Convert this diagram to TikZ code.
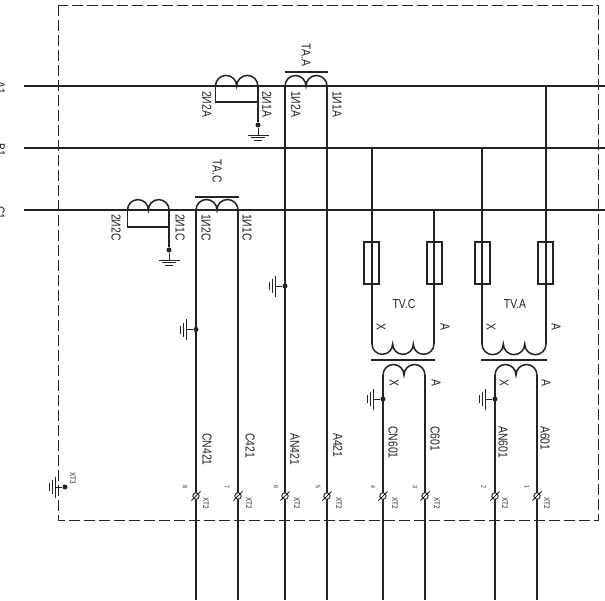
\documentclass[tikz,border=0pt]{standalone}
\usepackage{fontspec}
\setmainfont[FakeStretch=0.8]{Liberation Sans}
\definecolor{ink}{HTML}{232323}
\tikzset{
  bus/.style={draw=ink,line width=1.8pt},
  wire/.style={draw=ink,line width=1.5pt},
  thinw/.style={draw=ink,line width=0.9pt},
  frame/.style={draw=ink,line width=0.9pt,dash pattern=on 11pt off 4pt},
  dotn/.style={circle,fill=ink,inner sep=0pt,minimum size=5pt},
  fuse/.style={draw=ink,line width=1.5pt,fill=none,inner sep=0pt,minimum width=15pt,minimum height=42pt},
  term/.style={circle,draw=ink,line width=0.9pt,fill=white,inner sep=0pt,minimum size=6.5pt},
  lab/.style={rotate=-90,anchor=west,inner sep=0pt,text=ink,font=\fontsize{13}{13}\selectfont},
  tiny/.style={rotate=-90,inner sep=0pt,text=ink,font=\fontsize{8}{8}\selectfont},
  num/.style={rotate=-90,inner sep=0pt,text=ink,font=\fontsize{6.5}{6.5}\selectfont},
  upr/.style={inner sep=0pt,text=ink,font=\fontsize{13}{13}\selectfont},
}
% two bumps upward, starting at a named coordinate
\newcommand{\coilup}[2]{\draw[wire] (#1) arc[start angle=180,end angle=0,radius=#2pt] arc[start angle=180,end angle=0,radius=#2pt];}
\newcommand{\coildown}[2]{\draw[wire] (#1) arc[start angle=180,end angle=360,radius=#2pt] arc[start angle=180,end angle=360,radius=#2pt] arc[start angle=180,end angle=360,radius=#2pt];}
\newcommand{\gndbelow}[1]{\draw[thinw] (#1) -- ++(0,10) ++(-10.5,0) -- ++(21,0) ++(-17.5,2.7) -- ++(14,0) ++(-11,2.7) -- ++(8,0);}
\newcommand{\gndleft}[1]{\draw[thinw] (#1) -- ++(-10,0) ++(0,-10.5) -- ++(0,21) ++(-2.7,-17.5) -- ++(0,14) ++(-2.7,-11) -- ++(0,8);}
\newcommand{\slashterm}[1]{\draw[thinw] ([shift={(-4.6,4.6)}]#1.center) -- ([shift={(4.6,-4.6)}]#1.center);}
\begin{document}
\begin{tikzpicture}[x=1pt,y=-1pt]
\useasboundingbox (0,0) rectangle (605,600);
\fill[white] (0,0) rectangle (605,600);
% bus bars
\coordinate (a0) at (24,86); \coordinate (a1) at (605,86);
\coordinate (b0) at (24,148); \coordinate (b1) at (605,148);
\coordinate (c0) at (24,210); \coordinate (c1) at (605,210);
\draw[bus,line width=2pt] (a0) -- (a1);
\draw[bus] (b0) -- (b1);
\draw[bus] (c0) -- (c1);
% coil end points
\coordinate (taaL) at (285,86); \coordinate (taaR) at (327,86);
\coordinate (tacL) at (196,210); \coordinate (tacR) at (238,210);
\coordinate (saL) at (215.5,86); \coordinate (saR) at (258,86);
\coordinate (scL) at (127.5,210); \coordinate (scR) at (169,210);
% bottom ends
\foreach \n/\x in {w1/196,w2/238,w3/285,w4/327,w5/383,w6/425,w7/495,w8/537}{\coordinate (\n) at (\x,600);}
% terminals
\foreach \n/\x in {t8/196,t7/238,t6/285,t5/327,t4/383,t3/425,t2/495,t1/537}{\coordinate (\n p) at (\x,496);}
% current transformers
\coilup{taaL}{10.5}
\coilup{tacL}{10.5}
\coilup{saL}{10.6}
\coilup{scL}{10.4}
\coordinate (barAa) at (285,72); \coordinate (barAb) at (328,72);
\coordinate (barCa) at (195,197); \coordinate (barCb) at (239,197);
\draw[wire] (barAa) -- (barAb);
\draw[wire] (barCa) -- (barCb);
\draw[wire] (taaL) -- (w3);
\draw[wire] (taaR) -- (w4);
\draw[wire] (tacL) -- (w1);
\draw[wire] (tacR) -- (w2);
% secondary loops
\node[dotn] (da) at (258,125) {};
\node[dotn] (dc) at (169,250) {};
\draw[wire] (saL) |- (258,102);
\draw[wire] (saR) -- (da);
\draw[wire] (scL) |- (169,227);
\draw[wire] (scR) -- (dc);
\gndbelow{da}
\gndbelow{dc}
% ground points on wires
\node[dotn] (g1) at (196,329.5) {};
\node[dotn] (g2) at (285,286) {};
\node[dotn] (g3) at (383,399) {};
\node[dotn] (g4) at (495,399) {};
\node[dotn] (g5) at (65,487) {};
\gndleft{g1}
\gndleft{g2}
\gndleft{g3}
\gndleft{g4}
\gndleft{g5}
% voltage transformers
\foreach \n/\x in {fa/371.5,fb/434.5,fc/482.5,fd/545.5}{\node[fuse] (\n) at (\x,263) {};}
\coordinate (vcL) at (372,344); \coordinate (vcR) at (434,344);
\coordinate (vaL) at (482,344); \coordinate (vaR) at (546,344);
\coordinate (tpa) at (372,148); \coordinate (tpb) at (434,210);
\coordinate (tpc) at (482,148); \coordinate (tpd) at (546,86);
\draw[wire] (tpa) -- (vcL);
\draw[wire] (tpb) -- (vcR);
\draw[wire] (tpc) -- (vaL);
\draw[wire] (tpd) -- (vaR);
\coildown{vcL}{10.33}
\coildown{vaL}{10.67}
\coordinate (vbarCa) at (371,360); \coordinate (vbarCb) at (435,360);
\coordinate (vbarAa) at (481,360); \coordinate (vbarAb) at (547,360);
\draw[wire] (vbarCa) -- (vbarCb);
\draw[wire] (vbarAa) -- (vbarAb);
\coordinate (u1) at (383,375); \coordinate (u2) at (425,375);
\coordinate (u3) at (495,375); \coordinate (u4) at (537,375);
\coilup{u1}{10.5}
\coilup{u3}{10.5}
\draw[wire] (u1) -- (w5);
\draw[wire] (u2) -- (w6);
\draw[wire] (u3) -- (w7);
\draw[wire] (u4) -- (w8);
% terminals on top
\foreach \n in {t1,t2,t3,t4,t5,t6,t7,t8}{\node[term] (\n) at (\n p) {}; \slashterm{\n}}
% frame
\coordinate (fr1) at (58.5,5); \coordinate (fr2) at (598,520);
\draw[frame] (fr1) rectangle (fr2);
% labels
\foreach \t/\x/\y in {A1/5/81,B1/5/143,C1/5/206}{\node[lab,anchor=north west] at (\x,\y) {\t};}
\foreach \t/\x/\y in {2И2А/207/91,2И1А/267/91,1И2А/296/91,1И1А/337/91,2И2С/116/214,2И1С/180/214,1И2С/206/214,1И1С/247/214,ТА.А/306/43,ТА.С/217/159,
  CN421/207/433,C421/250/433,AN421/295/433,A421/338/433,CN601/393/426,C601/435/426,AN601/503/426,A601/545/426}{\node[lab] at (\x,\y) {\t};}
\foreach \t/\x/\y in {TV.C/404/304,TV.A/515/304}{\node[upr] at (\x,\y) {\t};}
\foreach \t/\x/\y in {X/381/327,A/445/327,X/491/327,A/556/327,X/394/383,A/436/383,X/504/383,A/546/383}{\node[upr,rotate=-90] at (\x,\y) {\t};}
\foreach \x in {206,249,297,339,395,437,505,547}{\node[tiny] at (\x,503) {XT2};}
\node[tiny] at (73,478) {XT3};
\foreach \t/\x in {8/185,7/227,6/276,5/318,4/373,3/415,2/484,1/527}{\node[num] at (\x,487) {\t};}
\end{tikzpicture}
\end{document}
